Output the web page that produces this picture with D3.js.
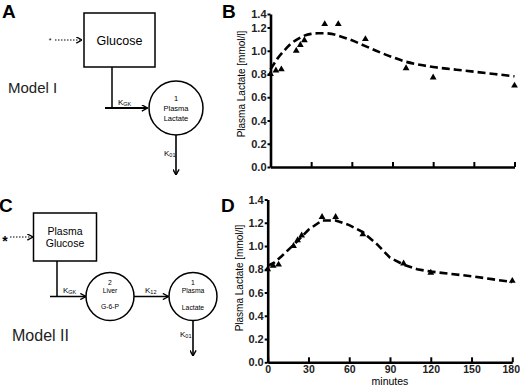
<!DOCTYPE html>
<html>
<head>
<meta charset="utf-8">
<script src="https://cdn.jsdelivr.net/npm/d3@7"></script>
<style>
  body { margin: 0; background: #fff; }
  svg text { font-family: Arial, "Liberation Sans", sans-serif; }
</style>
</head>
<body>
<svg id="fig" width="520" height="387"></svg>
<script>
// observed plasma lactate (same samples in B and D)
const obsMinutes = [0, 4, 8, 19, 22, 25, 40, 50, 70, 100, 120, 180];
const obsLactate = [0.80, 0.83, 0.84, 1.0, 1.05, 1.09, 1.25, 1.25, 1.1, 0.85, 0.77, 0.70];

// model I fit (panel B)
const fit1Minutes = [0, 5, 10, 15, 20, 25, 30, 35, 40, 45, 50, 60, 70, 80, 90, 100, 110, 120, 135, 150, 165, 180];
const fit1Lactate = [0.84, 0.93, 1.0, 1.06, 1.1, 1.13, 1.145, 1.15, 1.15, 1.145, 1.13, 1.09, 1.04, 0.99, 0.945, 0.905, 0.88, 0.86, 0.84, 0.82, 0.80, 0.78];

// model II fit (panel D)
const fit2Minutes = [0, 5, 10, 20, 30, 40, 50, 60, 70, 80, 90, 100, 110, 120, 135, 150, 165, 180];
const fit2Lactate = [0.83, 0.86, 0.91, 1.02, 1.14, 1.22, 1.22, 1.18, 1.12, 1.02, 0.90, 0.84, 0.80, 0.78, 0.76, 0.74, 0.715, 0.69];

const xTicks = [0, 30, 60, 90, 120, 150, 180];
const yTicks = [0, 0.2, 0.4, 0.6, 0.8, 1.0, 1.2, 1.4];
const yLabel = "Plasma Lactate [mmol/l]";
const xLabel = "minutes";

const svg = d3.select("svg#fig");

svg.append("defs")
  .append("marker")
  .attr("id", "arrow")
  .attr("viewBox", "0 0 8 8")
  .attr("refX", 7.5)
  .attr("refY", 4)
  .attr("markerWidth", 7)
  .attr("markerHeight", 7)
  .attr("markerUnits", "userSpaceOnUse")
  .attr("orient", "auto")
  .append("path")
  .attr("d", "M1,0.5L7.5,4L1,7.5")
  .attr("fill", "none")
  .attr("stroke", "#000")
  .attr("stroke-width", 1.6);

// panel letters
const letters = [["A", 2, 18], ["B", 222, 18], ["C", -1, 212], ["D", 221, 212]];
letters.forEach(([t, x, y]) => {
  svg.append("text")
    .attr("x", x).attr("y", y)
    .attr("font-size", 19).attr("font-weight", "bold")
    .text(t);
});

// ---------- plots ----------
function drawPlot(opts) {
  const g = svg.append("g");
  const x = d3.scaleLinear().domain([0, 180]).range(opts.xRange);
  const y = d3.scaleLinear().domain(opts.yDomain).range(opts.yRange);

  const yAxis = d3.axisLeft(y)
    .tickValues(yTicks)
    .tickFormat(d3.format(".1f"))
    .tickSize(3)
    .tickSizeOuter(0)
    .tickPadding(1);
  const ya = g.append("g")
    .attr("transform", `translate(${opts.xRange[0]},0)`)
    .call(yAxis);
  ya.select(".domain").attr("stroke-width", 2.6);
  ya.selectAll(".tick line").attr("stroke-width", 2);
  ya.selectAll(".tick text")
    .attr("font-size", 11).attr("font-weight", "bold").attr("fill", "#222");

  const xAxis = d3.axisBottom(x)
    .tickValues(xTicks)
    .tickSize(-5)
    .tickSizeOuter(0)
    .tickPadding(3)
    .tickFormat(opts.showX ? d3.format("d") : "");
  const xa = g.append("g")
    .attr("transform", `translate(0,${opts.yRange[0]})`)
    .call(xAxis);
  xa.select(".domain").attr("stroke-width", 2.6);
  xa.selectAll(".tick line").attr("stroke-width", 2);
  xa.selectAll(".tick text")
    .attr("font-size", 10.5).attr("font-weight", "bold").attr("fill", "#222")
    .attr("dx", (d) => (d === 180 ? -1.5 : 0));

  g.append("text")
    .attr("transform", `translate(${opts.yTitleX},${opts.yTitleY}) rotate(-90)`)
    .attr("text-anchor", "middle")
    .attr("font-size", 10)
    .text(yLabel);

  if (opts.showX) {
    g.append("text")
      .attr("x", (opts.xRange[0] + opts.xRange[1]) / 2)
      .attr("y", 385)
      .attr("text-anchor", "middle")
      .attr("font-size", 10.5)
      .text(xLabel);
  }

  const obs = obsMinutes.map((m, i) => [m, obsLactate[i]]);
  g.selectAll("path.obs")
    .data(obs)
    .join("path")
    .attr("class", "obs")
    .attr("transform", (d) => `translate(${x(d[0])},${y(d[1])})`)
    .attr("d", d3.symbol(d3.symbolTriangle, 20))
    .attr("fill", "#000");

  const fit = opts.fitMinutes.map((m, i) => [m, opts.fitLactate[i]]);
  g.append("path")
    .datum(fit)
    .attr("fill", "none")
    .attr("stroke", "#000")
    .attr("stroke-width", 2.6)
    .attr("stroke-dasharray", "8,4")
    .attr("d", d3.line()
      .x((d) => x(d[0]))
      .y((d) => y(d[1]))
      .curve(opts.curve));
}

drawPlot({
  xRange: [270.5, 514.5],
  yDomain: [0, 1.2, 1.4],
  yRange: [167, 27.5, 14],
  yTitleX: 245, yTitleY: 84,
  showX: false,
  fitMinutes: fit1Minutes, fitLactate: fit1Lactate,
  curve: d3.curveMonotoneX,
});

drawPlot({
  xRange: [267.7, 512.3],
  yDomain: [0, 1.4],
  yRange: [362.3, 199.5],
  yTitleX: 243, yTitleY: 278,
  showX: true,
  fitMinutes: fit2Minutes, fitLactate: fit2Lactate,
  curve: d3.curveLinear,
});

// ---------- compartment diagrams ----------
function line(x1, y1, x2, y2, w, arrow, dash) {
  const l = svg.append("line")
    .attr("x1", x1).attr("y1", y1).attr("x2", x2).attr("y2", y2)
    .attr("stroke", "#000").attr("stroke-width", w);
  if (arrow) l.attr("marker-end", "url(#arrow)");
  if (dash) l.attr("stroke-dasharray", dash);
}
function rateLabel(x, y, sub) {
  const t = svg.append("text").attr("x", x).attr("y", y).attr("font-size", 8);
  t.append("tspan").text("K");
  t.append("tspan").attr("font-size", 5.5).attr("dy", 1).text(sub);
}
function compartment(cx, cy, r, rows, fs) {
  svg.append("circle")
    .attr("cx", cx).attr("cy", cy).attr("r", r)
    .attr("fill", "none").attr("stroke", "#000").attr("stroke-width", 1.5);
  rows.forEach(([t, dy]) => {
    svg.append("text")
      .attr("x", cx).attr("y", cy + dy)
      .attr("text-anchor", "middle")
      .attr("font-size", fs)
      .attr("fill", "#000")
      .text(t);
  });
}

// Model I
svg.append("text").attr("x", 50).attr("y", 43).attr("font-size", 7).attr("text-anchor", "middle").text("*");
line(55, 40, 82, 40, 1.2, true, "1.5,1.5");
svg.append("rect").attr("x", 84).attr("y", 13).attr("width", 71).attr("height", 54)
  .attr("fill", "none").attr("stroke", "#000").attr("stroke-width", 1.5);
svg.append("text").attr("x", 119.5).attr("y", 45).attr("text-anchor", "middle")
  .attr("font-size", 12.5).text("Glucose");
line(112, 67, 112, 108, 1.5);
line(105, 108, 147.5, 108, 2, true);
rateLabel(118, 105, "GK");
compartment(176, 108, 27, [["1", -7], ["Plasma", 3], ["Lactate", 13]], 7.5);
line(176, 135, 176, 175, 1.6, true);
rateLabel(164, 156, "01");
svg.append("text").attr("x", 8).attr("y", 93)
  .attr("font-family", "Lato, sans-serif").attr("font-size", 15).attr("fill", "#222")
  .text("Model I");

// Model II
svg.append("text").attr("x", 5).attr("y", 246).attr("font-size", 14).attr("font-weight", "bold")
  .attr("text-anchor", "middle").text("*");
line(10, 237, 33, 237, 1.2, true, "1.5,1.5");
svg.append("rect").attr("x", 33.5).attr("y", 213).attr("width", 63).attr("height", 48)
  .attr("fill", "none").attr("stroke", "#000").attr("stroke-width", 1.5);
svg.append("text").attr("x", 65).attr("y", 235).attr("text-anchor", "middle")
  .attr("font-size", 10.5).text("Plasma");
svg.append("text").attr("x", 65).attr("y", 247).attr("text-anchor", "middle")
  .attr("font-size", 10.5).text("Glucose");
line(57, 261, 57, 296.5, 1.5);
line(50, 296.5, 86, 296.5, 1.6, true);
rateLabel(63, 293, "GK");
compartment(110, 296.5, 24, [["2", -12], ["Liver", -3.5], ["G-6-P", 12]], 6.8);
line(134, 296.5, 168.5, 296.5, 1.6, true);
rateLabel(145, 293, "12");
compartment(193, 296.5, 24, [["1", -12], ["Plasma", -3.5], ["Lactate", 13]], 6.8);
line(193, 320.5, 193, 356, 1.6, true);
rateLabel(180, 337, "01");
svg.append("text").attr("x", 12).attr("y", 341)
  .attr("font-family", "Lato, sans-serif").attr("font-size", 16).attr("fill", "#222")
  .text("Model II");
</script>
</body>
</html>
